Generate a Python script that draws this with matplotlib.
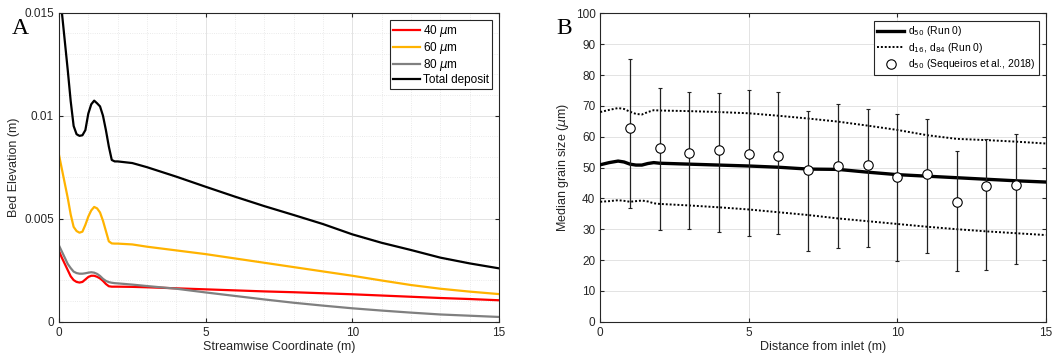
import numpy as np
import matplotlib
matplotlib.use('Agg')
import matplotlib.pyplot as plt
from matplotlib.ticker import MultipleLocator
from matplotlib.lines import Line2D

plt.rcParams['font.family'] = ['Liberation Sans', 'DejaVu Sans']
plt.rcParams['mathtext.fontset'] = 'dejavusans'

# ---- panel A: bed elevation per grain size
xa = [0, 0.1, 0.2, 0.3, 0.4, 0.5, 0.6, 0.7, 0.8, 0.9, 1.0, 1.1, 1.2, 1.3, 1.4,
      1.5, 1.6, 1.7, 1.8, 1.9, 2.0, 2.5, 3, 4, 5, 6, 7, 8, 9, 10, 11, 12, 13, 14, 15]
bed_40 = [0.00343, 0.0031, 0.0028, 0.0025, 0.0022, 0.00202, 0.00193, 0.0019, 0.00193,
          0.00205, 0.00217, 0.00223, 0.00223, 0.00218, 0.0021, 0.00198, 0.00183, 0.00172,
          0.0017, 0.0017, 0.0017, 0.00169, 0.00167, 0.00162, 0.00157, 0.00152, 0.00147,
          0.00143, 0.00138, 0.00133, 0.00127, 0.00121, 0.00115, 0.0011, 0.00104]
bed_60 = [0.0081, 0.0074, 0.0067, 0.0060, 0.0052, 0.0046, 0.0044, 0.00432, 0.00437,
          0.0047, 0.0051, 0.0054, 0.00557, 0.0055, 0.0053, 0.0049, 0.0044, 0.0039,
          0.0038, 0.00379, 0.00379, 0.00375, 0.00364, 0.00346, 0.00328, 0.00307, 0.00286,
          0.00265, 0.00244, 0.00223, 0.00200, 0.00178, 0.00160, 0.00146, 0.00134]
bed_80 = [0.0037, 0.0034, 0.0031, 0.0028, 0.0026, 0.00243, 0.00236, 0.00233, 0.00233,
          0.00235, 0.00238, 0.0024, 0.00238, 0.00232, 0.00222, 0.00208, 0.00198, 0.00192,
          0.00189, 0.00187, 0.00186, 0.0018, 0.00173, 0.0016, 0.00142, 0.00125, 0.00108,
          0.00092, 0.00078, 0.00065, 0.00054, 0.00044, 0.00035, 0.00029, 0.00023]
bed_total = [0.0165, 0.0150, 0.0136, 0.0122, 0.0107, 0.0095, 0.0091, 0.00902, 0.00905,
             0.0093, 0.0101, 0.01055, 0.01073, 0.0106, 0.01045, 0.0100, 0.0093, 0.0085,
             0.00785, 0.00778, 0.00778, 0.0077, 0.0075, 0.00704, 0.00655, 0.00607, 0.00561,
             0.00518, 0.00474, 0.00424, 0.00383, 0.00348, 0.00311, 0.00283, 0.00259]

# ---- panel B: grain size along the flume
xb = [0, 0.3, 0.6, 0.8, 1.0, 1.2, 1.4, 1.6, 1.8, 2, 3, 4, 5, 6, 7, 8, 9, 10, 11, 12, 13, 14, 15]
d50_run = [50.9, 51.6, 52.1, 51.8, 51.1, 50.8, 50.8, 51.3, 51.6, 51.4, 51.1, 50.8, 50.5,
           50.1, 49.5, 49.4, 48.5, 47.7, 47.2, 46.7, 46.2, 45.7, 45.3]
d84_run = [68.0, 68.7, 69.3, 69.0, 68.1, 67.4, 67.2, 68.0, 68.6, 68.5, 68.3, 68.0, 67.6,
           66.8, 65.9, 64.9, 63.6, 62.2, 60.5, 59.3, 58.9, 58.4, 57.8]
d16_run = [38.9, 39.1, 39.4, 39.2, 38.9, 39.1, 39.3, 39.0, 38.4, 38.2, 37.7, 37.1, 36.4,
           35.5, 34.6, 33.5, 32.6, 31.7, 30.8, 30.0, 29.3, 28.7, 28.1]

obs_x = [1, 2, 3, 4, 5, 6, 7, 8, 9, 10, 11, 12, 13, 14]
obs_d50 = [62.8, 56.2, 54.7, 55.6, 54.4, 53.8, 49.1, 50.6, 50.9, 46.9, 48.0, 38.7, 44.0, 44.4]
obs_top = [85.1, 75.9, 74.4, 74.1, 75.0, 74.5, 68.5, 70.5, 69.1, 67.4, 65.8, 55.5, 59.1, 60.8]
obs_bot = [36.8, 29.9, 30.2, 29.0, 27.7, 28.3, 22.9, 23.9, 24.2, 19.7, 22.3, 16.5, 16.8, 18.7]

txt = '#262626'
fig = plt.figure(figsize=(10.55, 3.61), dpi=100)
axA = fig.add_axes([0.0559, 0.1089, 0.417, 0.856])
axB = fig.add_axes([0.569, 0.1089, 0.4222, 0.854])

def style(ax, minor):
    ax.tick_params(direction='in', labelsize=8.5, colors=txt, length=3, top=True, right=True,
                   labeltop=False, labelright=False)
    for s in ax.spines.values():
        s.set_color(txt)
        s.set_linewidth(0.8)
    ax.grid(True, which='major', color='#e3e3e3', linewidth=0.7)
    if minor:
        ax.grid(True, which='minor', color='#e3e3e3', linewidth=0.6, linestyle=':')
        ax.tick_params(which='minor', length=0)
    ax.set_axisbelow(True)

axA.plot(xa, bed_40, color='#ff0000', lw=1.6, label=r'40 $\mu$m')
axA.plot(xa, bed_60, color='#ffb300', lw=1.6, label=r'60 $\mu$m')
axA.plot(xa, bed_80, color='#808080', lw=1.6, label=r'80 $\mu$m')
axA.plot(xa, bed_total, color='black', lw=1.6, label='Total deposit')
axA.set_xlim(0, 15)
axA.set_ylim(0, 0.015)
axA.set_xticks([0, 5, 10, 15])
axA.set_yticks([0, 0.005, 0.01, 0.015])
axA.set_yticklabels(['0', '0.005', '0.01', '0.015'])
axA.xaxis.set_minor_locator(MultipleLocator(1))
axA.yaxis.set_minor_locator(MultipleLocator(0.001))
style(axA, True)
axA.set_xlabel('Streamwise Coordinate (m)', fontsize=9, color=txt, labelpad=2)
axA.set_ylabel('Bed Elevation (m)', fontsize=9, color=txt, labelpad=3)
legA = axA.legend(loc='upper right', fontsize=8.5, handlelength=2.3, handletextpad=0.3,
                  borderpad=0.25, labelspacing=0.08, fancybox=False, framealpha=1,
                  bbox_to_anchor=(0.985, 0.975), borderaxespad=0)
legA.get_frame().set_edgecolor(txt)
legA.get_frame().set_linewidth(0.8)

axB.plot(xb, d50_run, color='black', lw=2.4, label=r'd$_{50}$ (Run 0)', zorder=3)
axB.plot(xb, d84_run, color='black', lw=1.4, ls=(0, (1, 1)), label=r'd$_{16}$, d$_{84}$ (Run 0)', zorder=3)
axB.plot(xb, d16_run, color='black', lw=1.4, ls=(0, (1, 1)), zorder=3)
yerr = [np.array(obs_d50) - np.array(obs_bot), np.array(obs_top) - np.array(obs_d50)]
axB.errorbar(obs_x, obs_d50, yerr=yerr, fmt='o', color='black', ecolor='#222222', elinewidth=0.9,
             capsize=1.6, capthick=0.9, mfc='white', mec='black', mew=0.8, ms=6.8, zorder=4,
             label='d$_{50}$ (Sequeiros et al., 2018)')
axB.set_xlim(0, 15)
axB.set_ylim(0, 100)
axB.set_xticks([0, 5, 10, 15])
axB.set_yticks(np.arange(0, 101, 10))
style(axB, False)
axB.set_xlabel('Distance from inlet (m)', fontsize=9, color=txt, labelpad=2)
axB.set_ylabel(r'Median grain size ($\mu$m)', fontsize=9, color=txt, labelpad=3)
h, l = axB.get_legend_handles_labels()
h[2] = Line2D([], [], ls='none', marker='o', mfc='white', mec='black', mew=0.8, ms=6.8)
legB = axB.legend(h, l, loc='upper right', fontsize=7.5, handlelength=2.6, handletextpad=0.4,
                  borderpad=0.3, labelspacing=0.25, fancybox=False, framealpha=1,
                  bbox_to_anchor=(0.985, 0.975), borderaxespad=0)
legB.get_frame().set_edgecolor(txt)
legB.get_frame().set_linewidth(0.8)

fig.text(0.011, 0.905, 'A', fontsize=17, family='Liberation Serif', color='black')
fig.text(0.527, 0.905, 'B', fontsize=17, family='Liberation Serif', color='black')

fig.savefig('out.png', dpi=100)
